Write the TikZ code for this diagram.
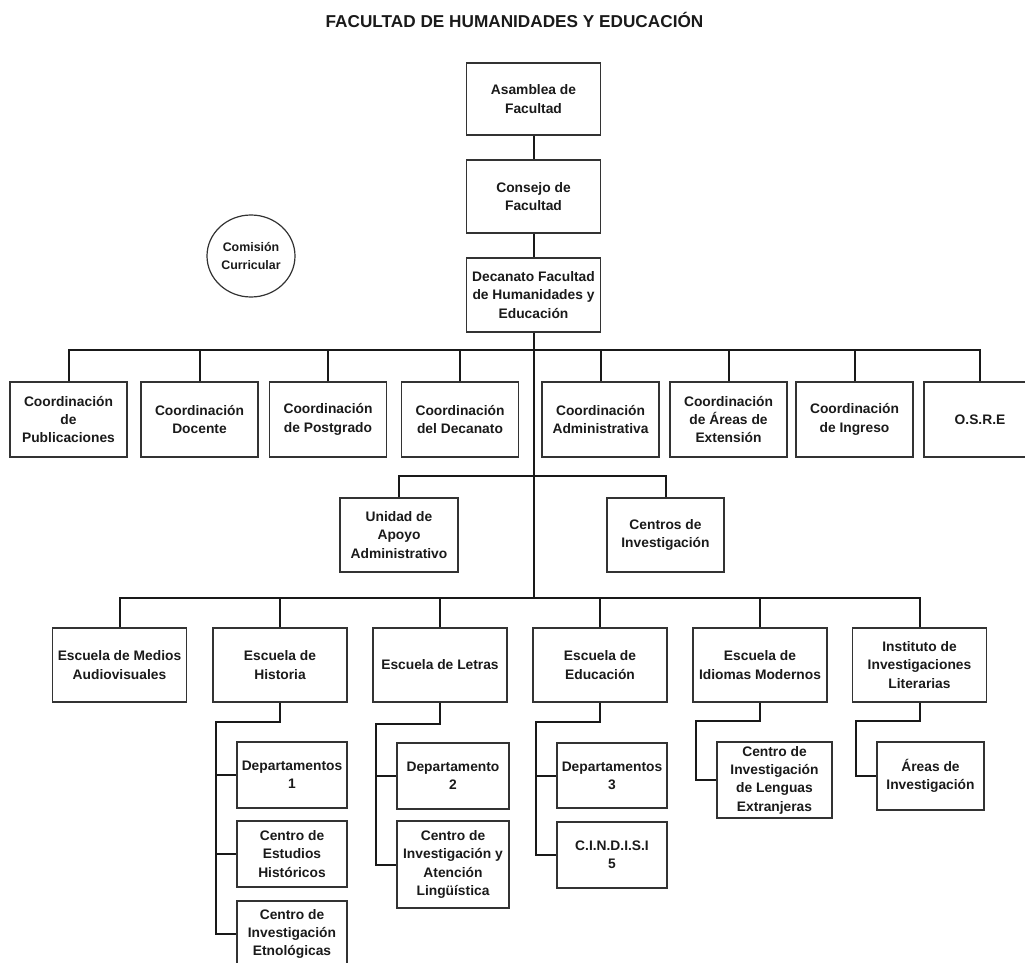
\documentclass[tikz,border=0pt]{standalone}
\usepackage{fontspec}
\setmainfont{Liberation Sans}
\usetikzlibrary{shapes.geometric}
\definecolor{boxc}{HTML}{333333}
\definecolor{txtc}{HTML}{1A1A1A}
\tikzset{
  box/.style 2 args={draw=boxc, line width=1.3pt, align=center, inner sep=0pt,
    minimum width=#1pt, minimum height=#2pt, text=txtc,
    font=\bfseries\fontsize{13.8}{18.3}\selectfont},
  conn/.style={line width=2pt, draw=black!90, line join=miter},
}
\begin{document}
\begin{tikzpicture}[x=1pt,y=-1pt]
\useasboundingbox (0,0) rectangle (1025,963);
% title
\node[anchor=base, font=\bfseries\fontsize{17.2}{20}\selectfont, text=txtc] (title) at (514.5,27.7) {FACULTAD DE HUMANIDADES Y EDUCACIÓN};
% top chain
\node[box={134}{72}] (asam) at (533.5,99) {Asamblea de\\Facultad};
\node[box={134}{73}] (cons) at (533.5,196.5) {Consejo de\\Facultad};
\node[box={134}{74}] (dec) at (533.5,295) {Decanato Facultad\\de Humanidades y\\Educación};
\node[ellipse, draw=boxc, line width=1.2pt, minimum width=88pt, minimum height=82pt, inner sep=0pt, align=center, text=txtc,
  font=\bfseries\fontsize{12.4}{17.3}\selectfont] (com) at (251,256) {Comisión\\Curricular};
% coordinations
\node[box={117}{75}] (c1) at (68.5,419.5) {Coordinación\\de\\Publicaciones};
\node[box={117}{75}] (c2) at (199.5,419.5) {Coordinación\\Docente};
\node[box={117}{75}] (c3) at (328,419.5) {Coordinación\\de Postgrado};
\node[box={117}{75}] (c4) at (460,419.5) {Coordinación\\del Decanato};
\node[box={117}{75}] (c5) at (600.5,419.5) {Coordinación\\Administrativa};
\node[box={117}{75}] (c6) at (728.5,419.5) {Coordinación\\de Áreas de\\Extensión};
\node[box={117}{75}] (c7) at (854.5,419.5) {Coordinación\\de Ingreso};
\node[box={112}{75}] (c8) at (980,419.5) {O.S.R.E};
% support units
\node[box={118}{74}] (uaa) at (399,535) {Unidad de\\Apoyo\\Administrativo};
\node[box={117}{74}] (cinv) at (665.5,535) {Centros de\\Investigación};
% schools
\node[box={134}{74}] (e1) at (119.5,665) {Escuela de Medios\\Audiovisuales};
\node[box={134}{74}] (e2) at (280,665) {Escuela de\\Historia};
\node[box={134}{74}] (e3) at (440,665) {Escuela de Letras};
\node[box={134}{74}] (e4) at (600,665) {Escuela de\\Educación};
\node[box={134}{74}] (e5) at (760,665) {Escuela de\\Idiomas Modernos};
\node[box={134}{74}] (e6) at (919.5,665) {Instituto de\\Investigaciones\\Literarias};
% sub units
\node[box={110}{66}] (h1) at (292,775) {Departamentos\\1};
\node[box={110}{66}] (h2) at (292,854) {Centro de\\Estudios\\Históricos};
\node[box={110}{66}] (h3) at (292,934) {Centro de\\Investigación\\Etnológicas};
\node[box={112}{66}] (l1) at (453,776) {Departamento\\2};
\node[box={112}{87}] (l2) at (453,864.5) {Centro de\\Investigación y\\Atención\\Lingüística};
\node[box={110}{65}] (d1) at (612,775.5) {Departamentos\\3};
\node[box={110}{66}] (d2) at (612,855) {C.I.N.D.I.S.I\\5};
\node[box={115}{76}] (i1) at (774.5,780) {Centro de\\Investigación\\de Lenguas\\Extranjeras};
\node[box={107}{68}] (n1) at (930.5,776) {Áreas de\\Investigación};
% bus coordinates
\coordinate (busA) at (533.5,350);
\coordinate (busB) at (533.5,476);
\coordinate (busC) at (533.5,598);
\coordinate (jh) at (216,722);
\coordinate (jl) at (376,724);
\coordinate (jd) at (536,722);
\coordinate (ji) at (696,721);
\coordinate (jn) at (856,721);
% connectors top
\draw[conn] (asam.south) -- (cons.north);
\draw[conn] (cons.south) -- (dec.north);
\draw[conn] (dec.south) -- (busC);
\draw[conn] (c1.north) -- (c1.north |- busA) -- (c8.north |- busA) -- (c8.north);
\foreach \n in {c2,c3,c4,c5,c6,c7} \draw[conn] (\n.north) -- (\n.north |- busA);
\draw[conn] (uaa.north) -- (uaa.north |- busB) -- (cinv.north |- busB) -- (cinv.north);
\draw[conn] (e1.north) -- (e1.north |- busC) -- (e6.north |- busC) -- (e6.north);
\foreach \n in {e2,e3,e4,e5} \draw[conn] (\n.north) -- (\n.north |- busC);
% sub connectors
\draw[conn] (e2.south) |- (jh) |- (h3.west);
\draw[conn] (jh |- h1.west) -- (h1.west);
\draw[conn] (jh |- h2.west) -- (h2.west);
\draw[conn] (e3.south) |- (jl) |- (l2.west);
\draw[conn] (jl |- l1.west) -- (l1.west);
\draw[conn] (e4.south) |- (jd) |- (d2.west);
\draw[conn] (jd |- d1.west) -- (d1.west);
\draw[conn] (e5.south) |- (ji) |- (i1.west);
\draw[conn] (e6.south) |- (jn) |- (n1.west);
\end{tikzpicture}
\end{document}
